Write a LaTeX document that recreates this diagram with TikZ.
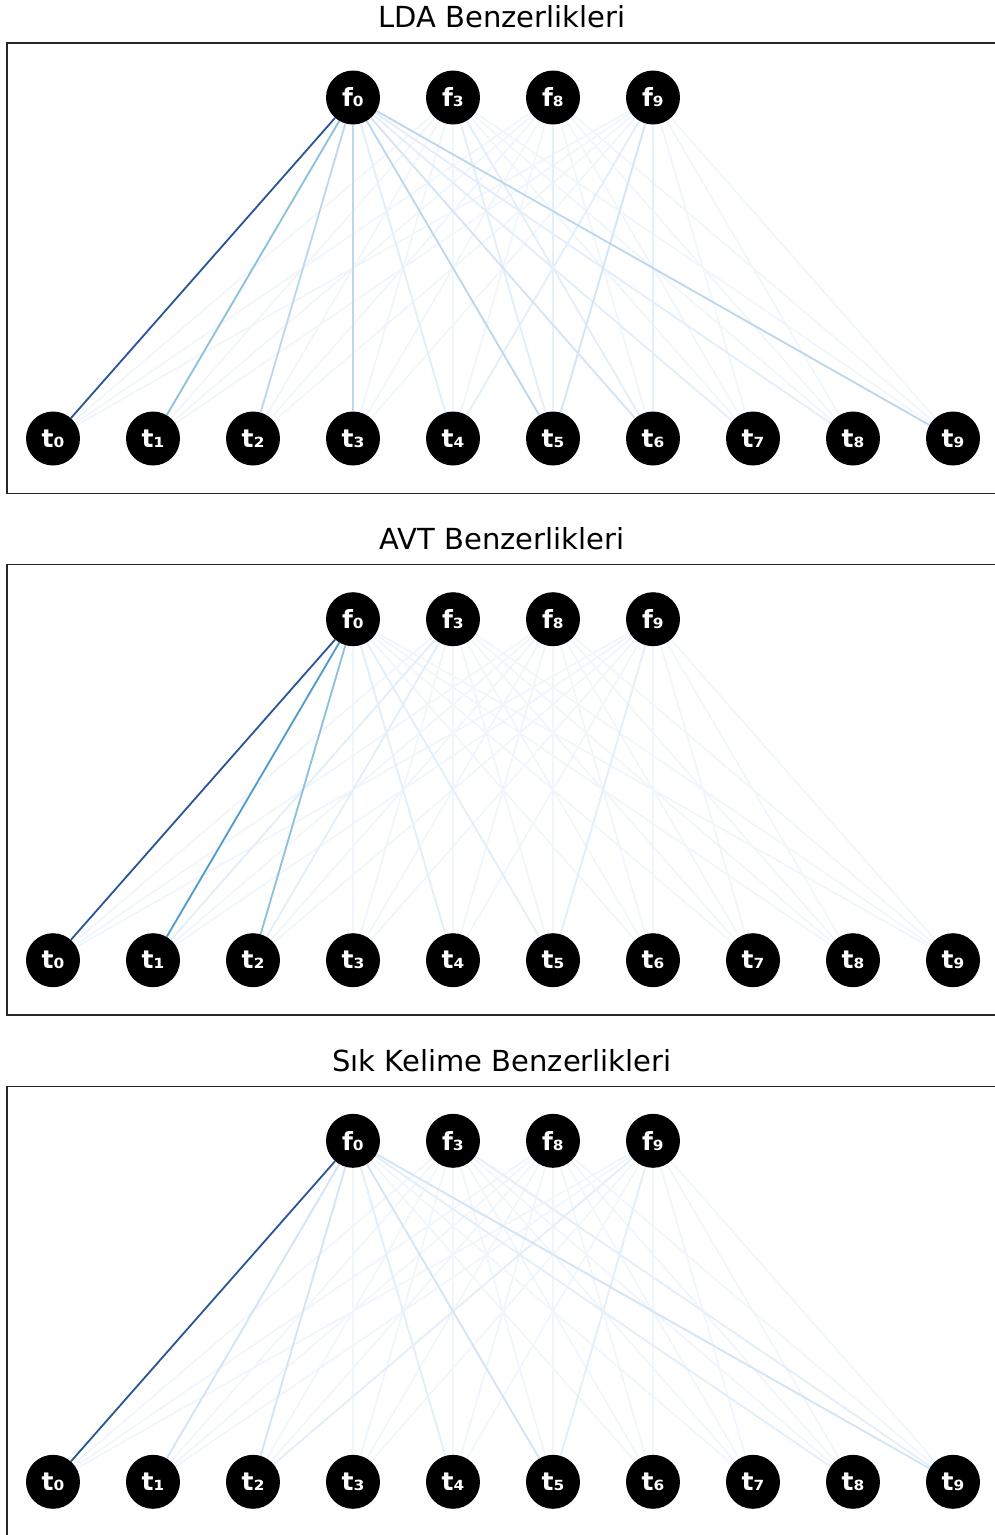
\documentclass[tikz,border=0pt]{standalone}
\usepackage{fontspec}
\setmainfont{DejaVu Sans}
\pgfdeclarelayer{background}
\pgfsetlayers{background,main}
\definecolor{c0}{HTML}{F0F6FC}
\definecolor{c1}{HTML}{E5EFF9}
\definecolor{c2}{HTML}{D5E5F4}
\definecolor{c3}{HTML}{BDD7EC}
\definecolor{c4}{HTML}{8CC1DE}
\definecolor{c5}{HTML}{4F9BCC}
\definecolor{c6}{HTML}{2A5697}
\tikzset{
  vnode/.style={circle, fill=black, minimum size=54pt, inner sep=0pt, text=white,
    font=\bfseries\fontsize{25}{25}\selectfont},
  edgeline/.style={line width=1.8pt},
  ttl/.style={font=\fontsize{29}{29}\selectfont, text=black},
  frameline/.style={line width=1.5pt, draw=black!85}
}
\newcommand\drawpanel[4]{%
\begin{scope}[yshift=-#2pt]
  \node[ttl] (#1title) at (502,17) {#3};
  \draw[frameline] (1000,43) -- (7,43) -- (7,493.5) -- (1000,493.5);
  \foreach \n/\x/\s in {0/353/₀,3/453/₃,8/553/₈,9/653/₉}
    \node[vnode] (#1f\n) at (\x,97.5) {f\s};
  \foreach \n/\s in {0/₀,1/₁,2/₂,3/₃,4/₄,5/₅,6/₆,7/₇,8/₈,9/₉}
    \node[vnode] (#1t\n) at (53+\n*100,438.5) {t\s};
  \begin{pgfonlayer}{background}
    \foreach \a in {0,3,8,9}
      \foreach \b in {0,...,9}
        \draw[edgeline, draw=c0] (#1f\a) -- (#1t\b);
    \foreach \a/\b/\c in {#4}
      \draw[edgeline, draw=\c] (#1f\a) -- (#1t\b);
  \end{pgfonlayer}
\end{scope}}
\begin{document}
\begin{tikzpicture}[x=1pt,y=-1pt]
\useasboundingbox (0,0) rectangle (995,1535);
\clip (0,0) rectangle (995,1535);
\drawpanel{p1}{0}{LDA Benzerlikleri}{
  3/5/c1, 9/4/c1, 9/6/c1, 3/6/c1, 8/5/c1,
  0/4/c1, 0/7/c1, 0/8/c1, 9/5/c2, 0/6/c2,
  0/2/c3, 0/3/c3, 0/5/c3, 0/9/c3, 0/1/c4, 0/0/c6}
\drawpanel{p2}{521.7}{AVT Benzerlikleri}{
  0/4/c1, 0/5/c1, 9/5/c1, 3/1/c1, 3/2/c1,
  0/2/c4, 0/1/c5, 0/0/c6}
\drawpanel{p3}{1043.3}{Sık Kelime Benzerlikleri}{
  0/4/c1, 0/8/c1, 9/5/c1, 3/9/c1, 9/2/c1,
  0/1/c2, 0/2/c2, 0/5/c2, 0/9/c2, 0/0/c6}
\end{tikzpicture}
\end{document}
